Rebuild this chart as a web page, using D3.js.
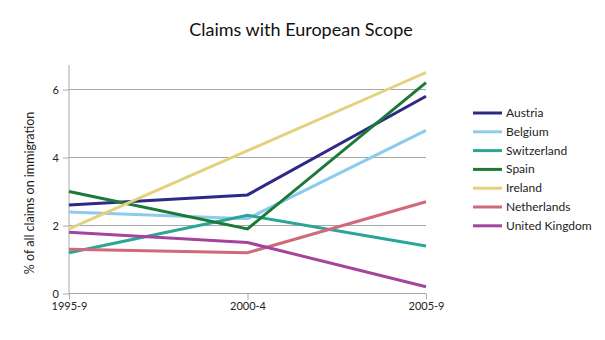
<!DOCTYPE html>
<html>
<head>
<meta charset="utf-8">
<script src="https://cdn.jsdelivr.net/npm/d3@7"></script>
<style>
  html, body { margin: 0; padding: 0; background: #fff; }
  svg { display: block; font-family: Lato, "Open Sans", sans-serif; }
</style>
</head>
<body>
<svg id="chart" width="605" height="340"></svg>
<script>
// Periods on the x axis
const periods = ["1995-9", "2000-4", "2005-9"];

// Share of claims on immigration with a European scope (%)
const countries = ["Austria", "Belgium", "Switzerland", "Spain", "Ireland", "Netherlands", "United Kingdom"];
const austria      = [2.6, 2.9, 5.8];
const belgium      = [2.4, 2.2, 4.8];
const switzerland  = [1.2, 2.3, 1.4];
const spain        = [3.0, 1.9, 6.2];
const ireland      = [1.9, 4.2, 6.5];
const netherlands  = [1.3, 1.2, 2.7];
const unitedKingdom = [1.8, 1.5, 0.2];
const seriesValues = [austria, belgium, switzerland, spain, ireland, netherlands, unitedKingdom];

const colors = ["#2d2a86", "#8ecbea", "#2ba596", "#1c7a38", "#e2d27e", "#d06a7a", "#a4449c"];
const yTicks = [0, 2, 4, 6];

const svg = d3.select("#chart");
const plot = { left: 69, right: 426, top: 65, bottom: 293.5 };

const x = d3.scalePoint().domain(periods).range([plot.left, plot.right]);
const y = d3.scaleLinear().domain([0, 6]).range([plot.bottom, plot.bottom - 6 * 34]);

// Title
svg.append("text")
  .attr("x", 301).attr("y", 36)
  .attr("text-anchor", "middle")
  .attr("font-size", 18)
  .attr("fill", "#111")
  .text("Claims with European Scope");

// Horizontal gridlines
svg.append("g")
  .selectAll("line")
  .data(yTicks.filter(d => d > 0))
  .join("line")
  .attr("x1", plot.left).attr("x2", plot.right)
  .attr("y1", d => y(d)).attr("y2", d => y(d))
  .attr("stroke", "#a8a8a8").attr("stroke-width", 1);

// Y axis
const yAxis = svg.append("g")
  .attr("transform", `translate(${plot.left},0)`)
  .call(d3.axisLeft(y).tickValues(yTicks).tickSize(6).tickPadding(4).tickFormat(d3.format("d")));
yAxis.select(".domain").attr("d", `M0,${plot.top}V${plot.bottom}`).attr("stroke", "#a8a8a8");
yAxis.selectAll(".tick line").attr("stroke", "#a8a8a8");
yAxis.selectAll(".tick text").attr("font-size", 11).attr("fill", "#222").attr("font-family", "Lato, sans-serif");

// X axis
const xAxis = svg.append("g")
  .attr("transform", `translate(0,${plot.bottom})`)
  .call(d3.axisBottom(x).tickSize(6).tickPadding(3));
xAxis.select(".domain").attr("d", `M${plot.left},0H${plot.right}`).attr("stroke", "#a8a8a8");
xAxis.selectAll(".tick line").attr("stroke", "#a8a8a8");
xAxis.selectAll(".tick text").attr("font-size", 11).attr("fill", "#222").attr("font-family", "Lato, sans-serif");

// Y axis label
svg.append("text")
  .attr("transform", "translate(34,193) rotate(-90)")
  .attr("text-anchor", "middle")
  .attr("font-size", 12.5)
  .attr("fill", "#222")
  .text("% of all claims on immigration");

// Series lines
const line = d3.line().x((d, i) => x(periods[i])).y(d => y(d));
svg.append("g")
  .selectAll("path")
  .data(seriesValues)
  .join("path")
  .attr("d", d => line(d))
  .attr("fill", "none")
  .attr("stroke", (d, i) => colors[i])
  .attr("stroke-width", 3)
  .attr("stroke-linejoin", "miter");

// Legend
const legend = svg.append("g").attr("transform", "translate(473,113)");
const rows = legend.selectAll("g")
  .data(countries)
  .join("g")
  .attr("transform", (d, i) => `translate(0,${i * 18.8})`);
rows.append("line")
  .attr("x1", 0).attr("x2", 29)
  .attr("y1", 0).attr("y2", 0)
  .attr("stroke", (d, i) => colors[i])
  .attr("stroke-width", 3);
rows.append("text")
  .attr("x", 33).attr("y", 4)
  .attr("font-size", 12)
  .attr("fill", "#222")
  .text(d => d);
</script>
</body>
</html>
